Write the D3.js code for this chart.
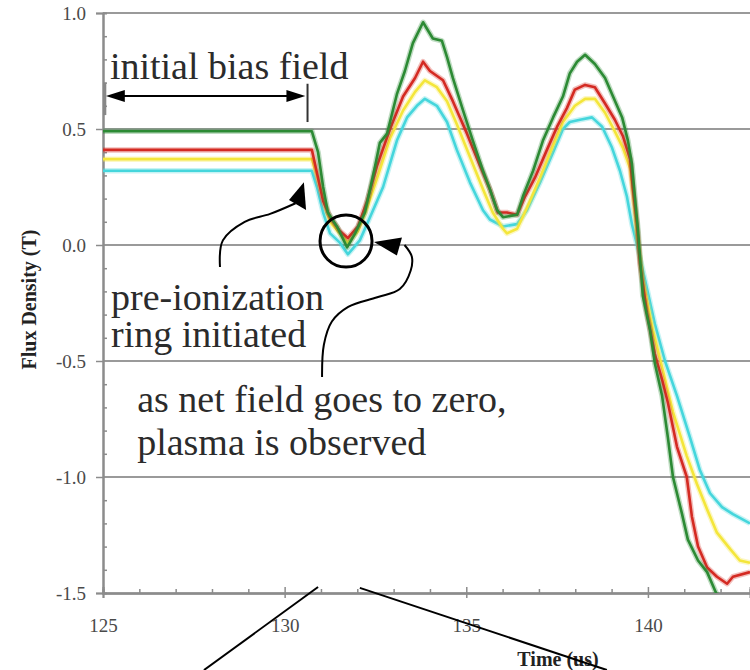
<!DOCTYPE html>
<html>
<head>
<meta charset="utf-8">
<script src="https://cdn.jsdelivr.net/npm/d3@7"></script>
<style>
  body { margin: 0; background: #fff; }
  text { font-family: "Liberation Serif", "Times New Roman", serif; }
</style>
</head>
<body>
<div id="chart"></div>
<script>

// Flux density traces: [time (us), flux (T)]
const green = [[125,0.49],[130.75,0.49],[130.92,0.40],[131.06,0.25],[131.19,0.14],[131.44,0.08],[131.72,-0.01],
  [131.94,0.05],[132.21,0.14],[132.49,0.34],[132.62,0.44],[132.82,0.48],[133.09,0.65],[133.31,0.75],[133.53,0.87],
  [133.81,0.96],[134.08,0.89],[134.33,0.88],[134.47,0.81],[134.63,0.72],[134.91,0.58],[135.18,0.45],[135.46,0.32],
  [135.65,0.24],[135.85,0.15],[136.01,0.12],[136.40,0.13],[136.56,0.21],[136.84,0.32],[137.11,0.45],[137.39,0.55],
  [137.66,0.64],[137.85,0.74],[138.05,0.79],[138.27,0.82],[138.54,0.78],[138.82,0.72],[139.04,0.64],[139.29,0.55],
  [139.45,0.45],[139.56,0.35],[139.64,0.21],[139.73,0.06],[139.86,-0.22],[140.06,-0.37],[140.19,-0.51],[140.39,-0.65],
  [140.55,-0.83],[140.69,-1.00],[140.94,-1.16],[141.10,-1.27],[141.38,-1.36],[141.63,-1.41],[141.85,-1.49],
  [142.05,-1.56],[142.40,-1.62]];

const red = [[125,0.41],[130.75,0.41],[130.89,0.31],[131.06,0.19],[131.25,0.12],[131.52,0.06],[131.74,0.03],
  [132.02,0.08],[132.27,0.19],[132.54,0.34],[132.90,0.50],[133.26,0.64],[133.59,0.72],[133.81,0.79],[134.00,0.75],
  [134.36,0.71],[134.63,0.62],[135.02,0.48],[135.38,0.34],[135.65,0.24],[135.87,0.14],[136.12,0.14],[136.40,0.13],
  [136.62,0.21],[136.89,0.29],[137.22,0.41],[137.50,0.51],[137.77,0.59],[137.99,0.67],[138.27,0.69],[138.54,0.68],
  [138.82,0.61],[139.09,0.54],[139.31,0.47],[139.51,0.37],[139.59,0.24],[139.70,0.09],[139.78,-0.08],[139.97,-0.29],
  [140.19,-0.47],[140.39,-0.58],[140.55,-0.68],[140.80,-0.87],[141.07,-1.00],[141.21,-1.17],[141.38,-1.30],
  [141.63,-1.39],[141.90,-1.43],[142.18,-1.46],[142.34,-1.43],[142.81,-1.41]];

const yellow = [[125,0.37],[130.75,0.37],[130.89,0.30],[131.06,0.20],[131.25,0.10],[131.52,0.05],[131.74,0.01],
  [132.02,0.06],[132.27,0.16],[132.57,0.30],[132.90,0.46],[133.26,0.58],[133.59,0.66],[133.86,0.71],[134.19,0.68],
  [134.47,0.62],[134.74,0.52],[135.10,0.38],[135.46,0.24],[135.73,0.14],[136.01,0.07],[136.12,0.05],[136.40,0.07],
  [136.67,0.16],[137.03,0.29],[137.39,0.43],[137.66,0.53],[137.99,0.60],[138.27,0.63],[138.54,0.63],[138.82,0.57],
  [139.09,0.49],[139.31,0.42],[139.51,0.33],[139.59,0.22],[139.70,0.05],[139.86,-0.15],[140.14,-0.37],[140.41,-0.54],
  [140.69,-0.72],[141.07,-0.91],[141.35,-1.03],[141.63,-1.14],[141.90,-1.24],[142.26,-1.31],[142.53,-1.36],
  [142.81,-1.37]];

const cyan = [[125,0.32],[130.75,0.32],[130.89,0.25],[131.06,0.14],[131.25,0.05],[131.52,0.01],[131.74,-0.04],
  [132.07,0.02],[132.35,0.12],[132.71,0.25],[133.09,0.45],[133.37,0.55],[133.64,0.60],[133.86,0.63],[134.19,0.60],
  [134.47,0.53],[134.74,0.41],[135.10,0.27],[135.46,0.15],[135.65,0.11],[136.01,0.08],[136.40,0.09],[136.67,0.15],
  [137.03,0.27],[137.39,0.40],[137.66,0.50],[137.85,0.53],[138.13,0.54],[138.46,0.55],[138.74,0.51],[139.01,0.42],
  [139.23,0.32],[139.42,0.21],[139.56,0.09],[139.70,0.00],[139.92,-0.15],[140.19,-0.34],[140.47,-0.50],
  [140.80,-0.65],[141.16,-0.83],[141.43,-0.97],[141.71,-1.07],[142.04,-1.13],[142.34,-1.16],[142.81,-1.20]];

const series = [
  {name: "cyan",   color: "#45d6dc", pts: cyan},
  {name: "yellow", color: "#f4e63a", pts: yellow},
  {name: "red",    color: "#d42a22", pts: red},
  {name: "green",  color: "#2c8a34", pts: green}
];

const yMajor = [-1.5, -1.0, -0.5, 0.0, 0.5, 1.0];
const xMajor = [125, 130, 135, 140];

let width = 750, height = 670;
let margin = {top: 13, right: 0, bottom: 77, left: 103};

let svg = d3.select("#chart").append("svg")
    .attr("width", width)
    .attr("height", height);

// Set the ranges
let x = d3.scaleLinear().domain([125, 142.81]).range([margin.left, width - margin.right]);
let y = d3.scaleLinear().domain([-1.5, 1.0]).range([height - margin.bottom, margin.top]);

let yMinor = d3.range(-14, 10).map(d => d / 10).filter(d => Math.abs(d * 2 - Math.round(d * 2)) > 0.01);
let xMinor = d3.range(126, 143).filter(d => xMajor.indexOf(d) < 0);

// Gridlines
svg.append("g").selectAll("line")
    .data(yMajor.filter(d => d > -1.5))
    .join("line")
      .attr("x1", margin.left).attr("x2", width)
      .attr("y1", d => y(d)).attr("y2", d => y(d))
      .attr("stroke", "#9a9a9a").attr("stroke-width", 2);

// Y axis
svg.append("g")
    .attr("transform", "translate(" + margin.left + ",0)")
    .call(d3.axisLeft(y).tickValues(yMajor).tickSize(7).tickPadding(10)
          .tickFormat(d => d.toFixed(1)));
svg.append("g")
    .attr("transform", "translate(" + margin.left + ",0)")
    .call(d3.axisRight(y).tickValues(yMinor).tickSize(4).tickFormat(""));

// X axis
svg.append("g")
    .attr("transform", "translate(0," + y(-1.5) + ")")
    .call(d3.axisBottom(x).tickValues(xMajor).tickSize(5).tickPadding(21).tickFormat(d3.format("d")));
svg.append("g")
    .attr("transform", "translate(0," + y(-1.5) + ")")
    .call(d3.axisTop(x).tickValues(xMajor).tickSize(6).tickFormat(""));
svg.append("g")
    .attr("transform", "translate(0," + y(-1.5) + ")")
    .call(d3.axisTop(x).tickValues(xMinor).tickSize(4).tickFormat(""));

svg.selectAll(".domain").attr("stroke", "#8c8c8c").attr("stroke-width", 2);
svg.selectAll(".tick line").attr("stroke", "#8c8c8c").attr("stroke-width", 1.5);
svg.selectAll(".tick text")
    .attr("fill", "#4a4a4a")
    .style("font-family", '"Liberation Serif", serif')
    .style("font-size", "19px");

// Axis titles
svg.append("text")
    .attr("transform", "translate(36," + y(-0.235) + ") rotate(-90)")
    .attr("text-anchor", "middle")
    .attr("font-weight", "bold")
    .attr("font-size", "20px")
    .attr("fill", "#222")
    .text("Flux Density (T)");

svg.append("text")
    .attr("x", 558).attr("y", 666)
    .attr("text-anchor", "middle")
    .attr("font-weight", "bold")
    .attr("font-size", "20px")
    .attr("fill", "#222")
    .text("Time (us)");

// Traces
svg.append("clipPath").attr("id", "plot-clip")
  .append("rect")
    .attr("x", margin.left).attr("y", margin.top)
    .attr("width", width - margin.left).attr("height", y(-1.5) - margin.top);

let valueline = d3.line()
    .x(d => x(d[0]))
    .y(d => y(d[1]));

let traces = svg.append("g").attr("clip-path", "url(#plot-clip)");
series.forEach(function(s) {
    traces.append("path")
        .attr("d", valueline(s.pts))
        .attr("fill", "none")
        .attr("stroke", s.color)
        .attr("stroke-opacity", 0.3)
        .attr("stroke-width", 5.5)
        .attr("stroke-linejoin", "round");
    traces.append("path")
        .attr("class", "line " + s.name)
        .attr("d", valueline(s.pts))
        .attr("fill", "none")
        .attr("stroke", s.color)
        .attr("stroke-width", 2.6)
        .attr("stroke-linejoin", "round");
});

// Annotations (anchored in data units)
let ann = svg.append("g").attr("fill", "#2b2b2b");
let P = (t, v) => [x(t), y(v)];

function label(t, v, str) {
    ann.append("text")
        .attr("x", x(t)).attr("y", y(v))
        .attr("font-size", "38px")
        .text(str);
}
label(125.19, 0.716, "initial bias field");
label(125.22, -0.28, "pre-ionization");
label(125.22, -0.44, "ring initiated");
label(125.94, -0.72, "as net field goes to zero,");
label(125.94, -0.905, "plasma is observed");

function head(tip, b1, b2) {
    svg.append("path")
        .attr("d", "M" + P(...tip) + "L" + P(...b1) + "L" + P(...b2) + "Z")
        .attr("fill", "#000");
}

// bias field span
svg.append("line")
    .attr("x1", x(125.05)).attr("x2", x(125.05))
    .attr("y1", y(0.70)).attr("y2", y(0.56))
    .attr("stroke", "#888").attr("stroke-width", 3);
svg.append("line")
    .attr("x1", x(125.5)).attr("x2", x(130.1))
    .attr("y1", y(0.642)).attr("y2", y(0.642))
    .attr("stroke", "#000").attr("stroke-width", 2);
head([125.08, 0.642], [125.6, 0.668], [125.6, 0.616]);
head([130.57, 0.642], [130.05, 0.668], [130.05, 0.616]);
svg.append("line")
    .attr("x1", x(130.63)).attr("x2", x(130.63))
    .attr("y1", y(0.695)).attr("y2", y(0.53))
    .attr("stroke", "#333").attr("stroke-width", 2);

// pre-ionization arrow
let curve = d3.line().x(d => x(d[0])).y(d => y(d[1])).curve(d3.curveCatmullRom);
svg.append("path")
    .attr("d", curve([[128.22, -0.095], [128.3, 0.02], [128.9, 0.10], [129.6, 0.134], [130.3, 0.18]]))
    .attr("fill", "none").attr("stroke", "#000").attr("stroke-width", 2);
head([130.53, 0.27], [130.12, 0.194], [130.59, 0.151]);

// zero-crossing circle
svg.append("circle")
    .attr("cx", x(131.69)).attr("cy", y(0.017))
    .attr("r", 26)
    .attr("fill", "none").attr("stroke", "#000").attr("stroke-width", 3);

// plasma arrow
svg.append("path")
    .attr("d", curve([[131.03, -0.569], [131.08, -0.43], [131.3, -0.33], [131.75, -0.267], [132.55, -0.225],
                      [133.17, -0.19], [133.47, -0.11], [133.5, -0.05], [133.3, 0.0]]))
    .attr("fill", "none").attr("stroke", "#000").attr("stroke-width", 2);
head([132.46, 0.013], [133.23, 0.032], [133.09, -0.045]);

// lines leading below the plot
svg.append("line")
    .attr("x1", x(130.92)).attr("y1", y(-1.474))
    .attr("x2", x(127.78)).attr("y2", y(-1.832))
    .attr("stroke", "#000").attr("stroke-width", 2);
svg.append("line")
    .attr("x1", x(132.07)).attr("y1", y(-1.478))
    .attr("x2", x(138.87)).attr("y2", y(-1.832))
    .attr("stroke", "#000").attr("stroke-width", 2);

</script>
</body>
</html>
